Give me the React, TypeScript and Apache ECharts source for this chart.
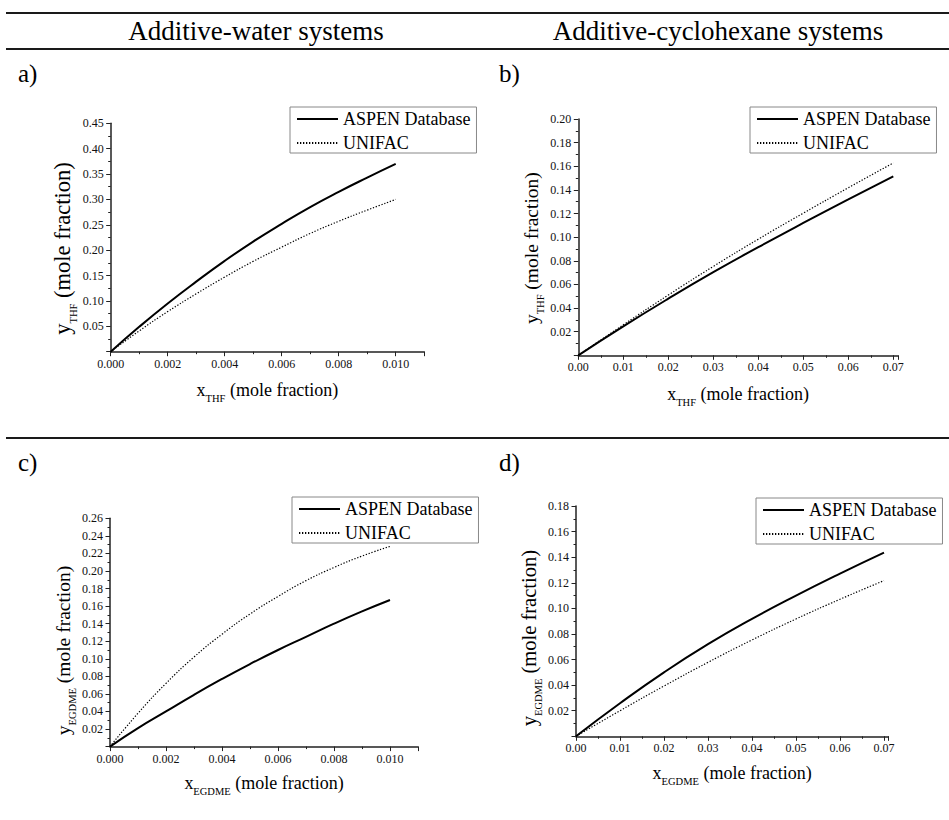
import React, { useEffect, useRef } from "react";
import * as echarts from "echarts";

const FONT = "Liberation Serif";

// Additive-water systems (x in mole fraction)
const xWater = [0, 0.001, 0.002, 0.003, 0.004, 0.005, 0.006, 0.007, 0.008, 0.009, 0.01];
const thfWaterAspen = [0, 0.049, 0.095, 0.138, 0.179, 0.217, 0.252, 0.285, 0.315, 0.343, 0.37];
const thfWaterUnifac = [0, 0.041, 0.079, 0.114, 0.147, 0.178, 0.206, 0.233, 0.257, 0.279, 0.3];
const egdmeWaterAspen = [0, 0.021, 0.04, 0.059, 0.077, 0.094, 0.11, 0.125, 0.14, 0.154, 0.167];
const egdmeWaterUnifac = [0, 0.038, 0.072, 0.102, 0.128, 0.151, 0.171, 0.189, 0.204, 0.217, 0.228];

// Additive-cyclohexane systems
const xCyclo = [0, 0.01, 0.02, 0.03, 0.04, 0.05, 0.06, 0.07];
const thfCycloAspen = [0, 0.0245, 0.0479, 0.0703, 0.0915, 0.112, 0.132, 0.1515];
const thfCycloUnifac = [0, 0.0258, 0.051, 0.0752, 0.0983, 0.1203, 0.1418, 0.1628];
const egdmeCycloAspen = [0, 0.0258, 0.05, 0.072, 0.0918, 0.11, 0.1272, 0.1436];
const egdmeCycloUnifac = [0, 0.02, 0.0393, 0.0578, 0.0753, 0.0917, 0.1071, 0.1217];

const seriesNames = ["ASPEN Database", "UNIFAC"];
const columnTitles = ["Additive-water systems", "Additive-cyclohexane systems"];
const panelLetters = ["a)", "b)", "c)", "d)"];

const panels = [
  { x: xWater, aspen: thfWaterAspen, unifac: thfWaterUnifac, sub: "THF", xMax: 0.011, xInt: 0.002, xDec: 3, yMax: 0.45, yInt: 0.05,
    grid: { left: 110.7, top: 123.3, width: 313.5, height: 228.4 }, yFont: 22.5, yGap: 28, yPad: 22, xGap: 29, legend: { left: 290, top: 107 } },
  { x: xCyclo, aspen: thfCycloAspen, unifac: thfCycloUnifac, sub: "THF", xMax: 0.071, xInt: 0.01, xDec: 2, yMax: 0.2, yInt: 0.02,
    grid: { left: 578.3, top: 119, width: 319.5, height: 236.3 }, yFont: 19.5, yGap: 35.5, yPad: 22, xGap: 29.5, legend: { left: 750, top: 107 } },
  { x: xWater, aspen: egdmeWaterAspen, unifac: egdmeWaterUnifac, sub: "EGDME", xMax: 0.011, xInt: 0.002, xDec: 3, yMax: 0.26, yInt: 0.02,
    grid: { left: 110, top: 518.3, width: 308, height: 228.3 }, yFont: 19.5, yGap: 33.5, yPad: 36, xGap: 27, legend: { left: 292, top: 497 } },
  { x: xCyclo, aspen: egdmeCycloAspen, unifac: egdmeCycloUnifac, sub: "EGDME", xMax: 0.071, xInt: 0.01, xDec: 2, yMax: 0.18, yInt: 0.02,
    grid: { left: 576, top: 506, width: 312.4, height: 230.3 }, yFont: 20.5, yGap: 34, yPad: 34, xGap: 28, legend: { left: 756, top: 498 } },
];

const isMultiple = (v: number, step: number) => {
  const r = v / step;
  return Math.abs(r - Math.round(r)) < 1e-6;
};

const AXIS_COLOR = "#222";

const nameStyle = (size: number, pad: number[]) => ({
  fontFamily: FONT,
  fontSize: size,
  color: "#000",
  padding: pad,
  rich: {
    m: { fontFamily: FONT, fontSize: size, color: "#000", verticalAlign: "top", lineHeight: size + 2 },
    s: { fontFamily: FONT, fontSize: 10.5, color: "#000", verticalAlign: "top", lineHeight: 10.5, padding: [size - 6, 0, 0, 0] },
  },
});

export default function App() {
  const ref = useRef<HTMLDivElement>(null);

  useEffect(() => {
    if (!ref.current) return;
    const chart = echarts.init(ref.current, undefined, { renderer: "svg" });

    const grids: any[] = [];
    const xAxes: any[] = [];
    const yAxes: any[] = [];
    const series: any[] = [];
    const legends: any[] = [];

    panels.forEach((p, i) => {
      grids.push({ ...p.grid, containLabel: false, outerBoundsMode: "none" });
      xAxes.push({
        type: "value",
        gridIndex: i,
        min: 0,
        max: p.xMax,
        interval: p.xInt,
        name: `{m|x}{s|${p.sub}}{m| (mole fraction)}`,
        nameLocation: "middle",
        nameGap: p.xGap,
        nameTextStyle: nameStyle(18, [0, 0, 0, 0]),
        axisLine: { show: true, onZero: false, lineStyle: { color: AXIS_COLOR, width: 1.5 } },
        axisTick: { show: true, length: 4.5, lineStyle: { color: AXIS_COLOR, width: 1 } },
        minorTick: { show: true, splitNumber: 2, length: 2.5, lineStyle: { color: AXIS_COLOR, width: 1 } },
        splitLine: { show: false },
        axisLabel: {
          margin: 6,
          fontFamily: FONT,
          fontSize: 12,
          color: "#111",
          showMaxLabel: true,
          formatter: (v: number) => (isMultiple(v, p.xInt) ? v.toFixed(p.xDec) : ""),
        },
      });
      yAxes.push({
        type: "value",
        gridIndex: i,
        min: 0,
        max: p.yMax,
        interval: p.yInt,
        name: `{m|y}{s|${p.sub}}{m| (mole fraction)}`,
        nameLocation: "middle",
        nameRotate: 90,
        nameGap: p.yGap,
        nameTextStyle: nameStyle(p.yFont, [0, p.yPad, 0, 0]),
        axisLine: { show: true, onZero: false, lineStyle: { color: AXIS_COLOR, width: 1.5 } },
        axisTick: { show: true, length: 4.5, lineStyle: { color: AXIS_COLOR, width: 1 } },
        minorTick: { show: true, splitNumber: 2, length: 2.5, lineStyle: { color: AXIS_COLOR, width: 1 } },
        splitLine: { show: false },
        axisLabel: {
          margin: 7,
          fontFamily: FONT,
          fontSize: 12,
          color: "#111",
          formatter: (v: number) => (v === 0 || !isMultiple(v, p.yInt) ? "" : v.toFixed(2)),
        },
      });
      series.push({
        type: "line",
        name: seriesNames[0],
        xAxisIndex: i,
        yAxisIndex: i,
        data: p.x.map((xv, k) => [xv, p.aspen[k]]),
        smooth: true,
        symbol: "none",
        showSymbol: false,
        lineStyle: { color: "#000", width: 2, type: "solid" },
        itemStyle: { color: "#000" },
      });
      series.push({
        type: "line",
        name: seriesNames[1],
        xAxisIndex: i,
        yAxisIndex: i,
        data: p.x.map((xv, k) => [xv, p.unifac[k]]),
        smooth: true,
        symbol: "none",
        showSymbol: false,
        lineStyle: { color: "#000", width: 1.2, type: [1.3, 1.7] },
        itemStyle: { color: "#000" },
      });
      legends.push({
        show: true,
        left: p.legend.left,
        top: p.legend.top,
        orient: "vertical",
        data: seriesNames,
        itemWidth: 41,
        itemHeight: 14,
        itemGap: 6,
        padding: [3, 6, 1, 6],
        borderColor: "#888",
        borderWidth: 1,
        borderRadius: 0,
        selectedMode: false,
        itemStyle: { opacity: 0, borderWidth: 0 },
        textStyle: { fontFamily: FONT, fontSize: 18, color: "#000", lineHeight: 18 },
      });
    });

    const lineStyle = { stroke: "#1a1a1a", lineWidth: 2 };
    const graphic: any[] = [
      { type: "line", shape: { x1: 6, y1: 13, x2: 949, y2: 13 }, style: lineStyle },
      { type: "line", shape: { x1: 6, y1: 49, x2: 949, y2: 49 }, style: lineStyle },
      { type: "line", shape: { x1: 6, y1: 438, x2: 949, y2: 438 }, style: lineStyle },
      {
        type: "text", x: 256, y: 31,
        style: { text: columnTitles[0], fontFamily: FONT, fontSize: 27, fill: "#000", align: "center", verticalAlign: "middle" },
      },
      {
        type: "text", x: 718, y: 31,
        style: { text: columnTitles[1], fontFamily: FONT, fontSize: 27, fill: "#000", align: "center", verticalAlign: "middle" },
      },
    ];
    const letterPos = [
      [18, 73],
      [499, 73],
      [18, 462],
      [499, 462],
    ];
    panelLetters.forEach((t, i) => {
      graphic.push({
        type: "text", x: letterPos[i][0], y: letterPos[i][1],
        style: { text: t, fontFamily: FONT, fontSize: 25, fill: "#000", align: "left", verticalAlign: "middle" },
      });
    });

    chart.setOption({
      animation: false,
      backgroundColor: "#fff",
      grid: grids,
      xAxis: xAxes,
      yAxis: yAxes,
      series,
      legend: legends,
      graphic,
    });

    return () => chart.dispose();
  }, []);

  return <div ref={ref} style={{ position: "absolute", left: 0, top: 0, width: 949, height: 820 }} />;
}
